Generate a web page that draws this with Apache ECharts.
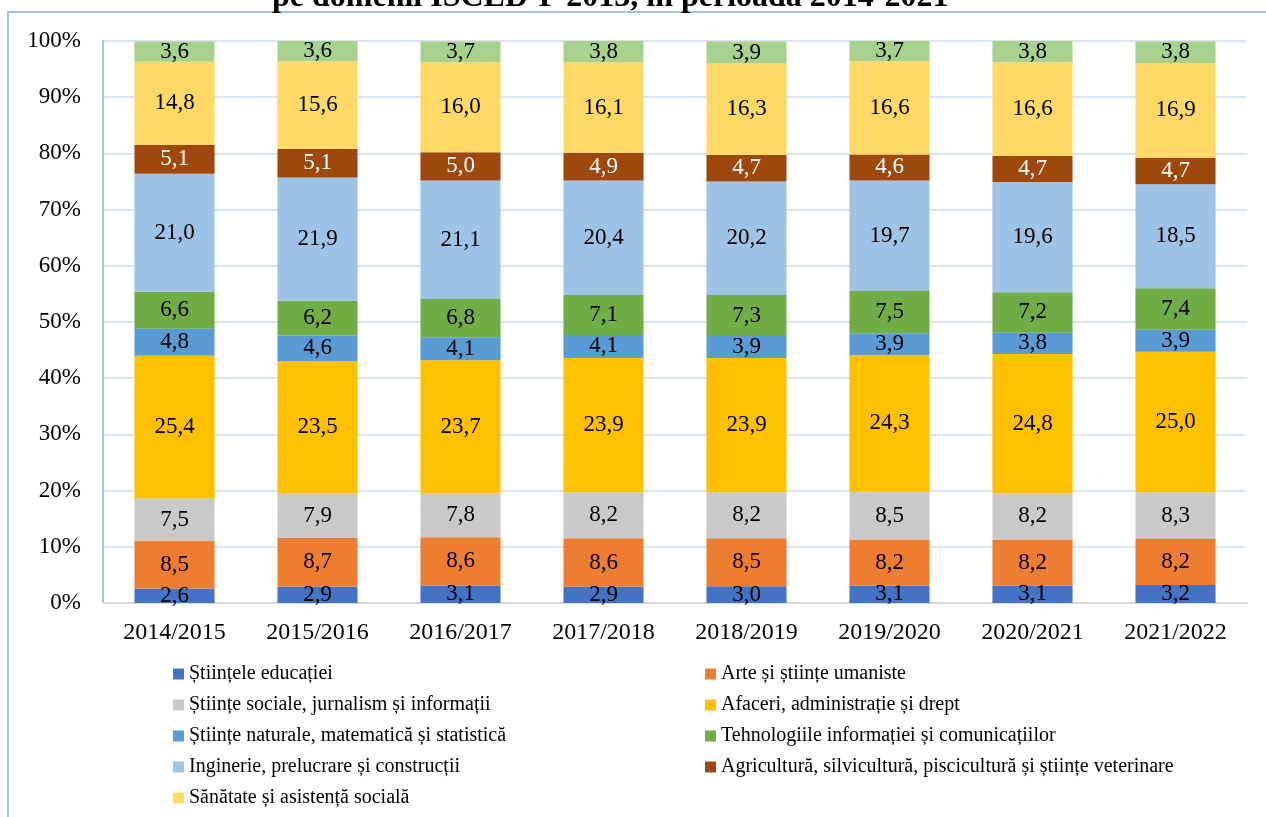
<!DOCTYPE html>
<html>
<head>
<meta charset="utf-8">
<script src="https://cdn.jsdelivr.net/npm/echarts@6/dist/echarts.min.js"></script>
<style>
  html, body { margin: 0; padding: 0; background: #fff; }
  #chart { width: 1266px; height: 817px; }
</style>
</head>
<body>
<div id="chart"></div>
<script>
var years = ['2014/2015', '2015/2016', '2016/2017', '2017/2018', '2018/2019', '2019/2020', '2020/2021', '2021/2022'];
var yTicks = ['0%', '10%', '20%', '30%', '40%', '50%', '60%', '70%', '80%', '90%', '100%'];

var educatie  = [2.6, 2.9, 3.1, 2.9, 3.0, 3.1, 3.1, 3.2];
var arte      = [8.5, 8.7, 8.6, 8.6, 8.5, 8.2, 8.2, 8.2];
var sociale   = [7.5, 7.9, 7.8, 8.2, 8.2, 8.5, 8.2, 8.3];
var afaceri   = [25.4, 23.5, 23.7, 23.9, 23.9, 24.3, 24.8, 25.0];
var naturale  = [4.8, 4.6, 4.1, 4.1, 3.9, 3.9, 3.8, 3.9];
var tic       = [6.6, 6.2, 6.8, 7.1, 7.3, 7.5, 7.2, 7.4];
var inginerie = [21.0, 21.9, 21.1, 20.4, 20.2, 19.7, 19.6, 18.5];
var agricult  = [5.1, 5.1, 5.0, 4.9, 4.7, 4.6, 4.7, 4.7];
var sanatate  = [14.8, 15.6, 16.0, 16.1, 16.3, 16.6, 16.6, 16.9];
var servicii  = [3.6, 3.6, 3.7, 3.8, 3.9, 3.7, 3.8, 3.8];

var names = [
    'Științele educației',
    'Arte și științe umaniste',
    'Științe sociale, jurnalism și informații',
    'Afaceri, administrație și drept',
    'Științe naturale, matematică și statistică',
    'Tehnologiile informației și comunicațiilor',
    'Inginerie, prelucrare și construcții',
    'Agricultură, silvicultură, piscicultură și științe veterinare',
    'Sănătate și asistență socială',
    'Servicii'
];
var values = [educatie, arte, sociale, afaceri, naturale, tic, inginerie, agricult, sanatate, servicii];
var colors = ['#4472c4', '#ed7d31', '#c9c9c9', '#ffc000', '#5b9bd5', '#70ad47', '#9dc3e6', '#9e480e', '#ffd966', '#a9d18e'];

var font = 'Liberation Serif';

var series = [];
for (var i = 0; i < names.length; i++) {
    series.push({
        name: names[i],
        type: 'bar',
        stack: 'total',
        barWidth: '56%',
        data: values[i],
        itemStyle: { color: colors[i] },
        label: {
            show: true,
            position: 'inside',
            fontFamily: font,
            fontSize: 23,
            color: i === 7 ? '#fff' : '#000',
            textBorderWidth: 0,
            formatter: function (p) { return p.value.toFixed(1).replace('.', ','); }
        }
    });
}

var legendStyle = { fontFamily: font, fontSize: 20, color: '#000', lineHeight: 22 };

var option = {
    animation: false,
    title: {
        text: 'pe domenii ISCED-F 2013, în perioada 2014-2021',
        left: 272,
        top: -18,
        padding: 0,
        textStyle: { fontFamily: font, fontSize: 32, fontWeight: 'bold', color: '#000' }
    },
    graphic: [{
        type: 'rect',
        shape: { x: 8, y: 12, width: 1300, height: 900 },
        style: { fill: 'none', stroke: '#9dc3e6', lineWidth: 2 },
        silent: true
    }],
    legend: [{
        orient: 'vertical',
        left: 173,
        top: 663,
        padding: 0,
        itemWidth: 11,
        itemHeight: 11,
        itemGap: 9,
        icon: 'rect',
        textStyle: legendStyle,
        data: [names[0], names[2], names[4], names[6], names[8]]
    }, {
        orient: 'vertical',
        left: 705,
        top: 663,
        padding: 0,
        itemWidth: 11,
        itemHeight: 11,
        itemGap: 9,
        icon: 'rect',
        textStyle: legendStyle,
        data: [names[1], names[3], names[5], names[7]]
    }],
    grid: { left: 103, right: 19, top: 41, bottom: 214 },
    xAxis: {
        type: 'category',
        data: years,
        axisTick: { show: false },
        axisLine: { lineStyle: { color: '#d9d9d9', width: 2 } },
        axisLabel: { fontFamily: font, fontSize: 24, color: '#000', margin: 18 }
    },
    yAxis: {
        type: 'value',
        min: 0,
        max: 100,
        interval: 10,
        axisLine: { show: true, lineStyle: { color: '#9dc3e6', width: 2 } },
        axisTick: { show: false },
        splitLine: { lineStyle: { color: '#dae3f3', width: 2 } },
        axisLabel: {
            fontFamily: font, fontSize: 23, color: '#000', margin: 22,
            formatter: function (v) { return yTicks[Math.round(v / 10)]; }
        }
    },
    series: series
};

var chart = echarts.init(document.getElementById('chart'));
chart.setOption(option);
</script>
</body>
</html>
